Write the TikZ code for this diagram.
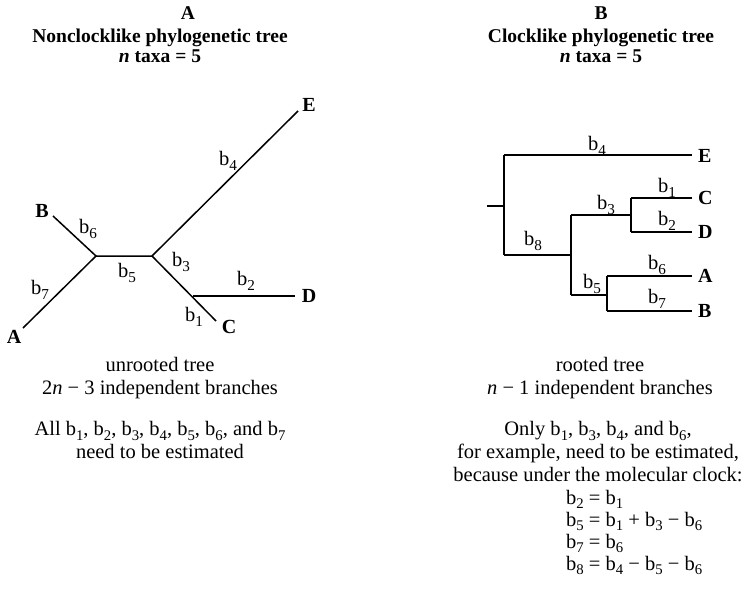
\documentclass[tikz,border=0pt]{standalone}
\usepackage{fontspec}
\setmainfont{Liberation Serif}
\newcommand{\bsub}[1]{b\raisebox{-0.22em}[0pt][0pt]{\fontsize{0.72em}{1em}\selectfont #1}}
\newcommand{\bl}[1]{b\raisebox{-0.28em}{\fontsize{0.74em}{1em}\selectfont #1}}
\begin{document}
\begin{tikzpicture}[x=1pt,y=-1pt,
  br/.style={line width=1.5pt},
  tx/.style={font=\fontsize{20}{22}\selectfont\bfseries, inner sep=0pt},
  lb/.style={font=\fontsize{20.5}{22}\selectfont, inner sep=0pt},
  ttl/.style={font=\fontsize{19.5}{19.5}\selectfont\bfseries, align=center, inner sep=0pt},
  body/.style={font=\fontsize{20.5}{23}\selectfont, align=center, inner sep=0pt}]
\useasboundingbox (0,0) rectangle (752,594);
% ---------- Titles
\node[ttl] (tA) at (188,13) {A};
\node[ttl] (sA) at (160,46) {Nonclocklike phylogenetic tree\\ \textit{n} taxa = 5};
\node[ttl] (tB) at (601,13) {B};
\node[ttl] (sB) at (601,46) {Clocklike phylogenetic tree\\ \textit{n} taxa = 5};
% ---------- Tree A
\coordinate (jL) at (96,256);
\coordinate (jR) at (152,256);
\coordinate (jCD) at (193,296);
\coordinate (eB) at (53,216);
\coordinate (eA) at (23,328);
\coordinate (eE) at (298,111);
\coordinate (eC) at (216,321);
\coordinate (eD) at (295,296);
\node[tx] (aB) at (42,211) {B};
\node[tx] (aA) at (14,337) {A};
\node[tx] (aE) at (309,105) {E};
\node[tx] (aC) at (229,327) {C};
\node[tx] (aD) at (309,296) {D};
\draw[br] (eB) -- (jL) -- (eA);
\draw[br] (jL) -- (jR) -- (eE);
\draw[br] (jR) -- (eC);
\draw[br] (jCD) -- (eD);
\node[lb] at (88,229) {\bl{6}};
\node[lb] at (127,273) {\bl{5}};
\node[lb] at (40,290) {\bl{7}};
\node[lb] at (228,161) {\bl{4}};
\node[lb] at (181,262) {\bl{3}};
\node[lb] at (246,281) {\bl{2}};
\node[lb] at (194,317) {\bl{1}};
% ---------- Tree B
\coordinate (r0) at (487,206);
\coordinate (r1) at (504,206);
\coordinate (v1t) at (504,155);
\coordinate (v1b) at (504,255);
\coordinate (n2) at (571,255);
\coordinate (v2t) at (571,215);
\coordinate (v2b) at (571,295);
\coordinate (n3) at (631,215);
\coordinate (v3t) at (631,198);
\coordinate (v3b) at (631,232);
\coordinate (n5) at (607,295);
\coordinate (v5t) at (607,276);
\coordinate (v5b) at (607,311);
\node[tx, anchor=west] (bE) at (698,156) {E};
\node[tx, anchor=west] (bC) at (698,198) {C};
\node[tx, anchor=west] (bD) at (698,232) {D};
\node[tx, anchor=west] (bA) at (698,276) {A};
\node[tx, anchor=west] (bB) at (698,311) {B};
\draw[br] (r0) -- (r1);
\draw[br] (v1t) -- (v1b);
\draw[br] (v1t) -- (692,155);
\draw[br] (v1b) -- (n2);
\draw[br] (v2t) -- (v2b);
\draw[br] (v2t) -- (n3);
\draw[br] (v3t) -- (v3b);
\draw[br] (v3t) -- (692,198);
\draw[br] (v3b) -- (692,232);
\draw[br] (v2b) -- (n5);
\draw[br] (v5t) -- (v5b);
\draw[br] (v5t) -- (692,276);
\draw[br] (v5b) -- (692,311);
\node[lb] at (597,146) {\bl{4}};
\node[lb] at (533,241) {\bl{8}};
\node[lb] at (606,205) {\bl{3}};
\node[lb] at (667,188) {\bl{1}};
\node[lb] at (667,221) {\bl{2}};
\node[lb] at (592,284) {\bl{5}};
\node[lb] at (657,265) {\bl{6}};
\node[lb] at (657,299) {\bl{7}};
% ---------- Text A
\node[body] (cA1) at (160,378) {unrooted tree\\ 2\textit{n} − 3 independent branches};
\node[body] (cA2) at (160,440) {All \bsub{1}, \bsub{2}, \bsub{3}, \bsub{4}, \bsub{5}, \bsub{6}, and \bsub{7}\\ need to be estimated};
% ---------- Text B
\node[body] (cB1) at (600,378) {rooted tree\\ \textit{n} − 1 independent branches};
\node[body] (cB2) at (598,452) {Only \bsub{1}, \bsub{3}, \bsub{4}, and \bsub{6},\\ for example, need to be estimated,\\ because under the molecular clock:};
\node[lb, anchor=west] (e1) at (566,497) {\bsub{2} = \bsub{1}};
\node[lb, anchor=west] (e2) at (566,519) {\bsub{5} = \bsub{1} + \bsub{3} − \bsub{6}};
\node[lb, anchor=west] (e3) at (566,541) {\bsub{7} = \bsub{6}};
\node[lb, anchor=west] (e4) at (566,563) {\bsub{8} = \bsub{4} − \bsub{5} − \bsub{6}};
\end{tikzpicture}
\end{document}
